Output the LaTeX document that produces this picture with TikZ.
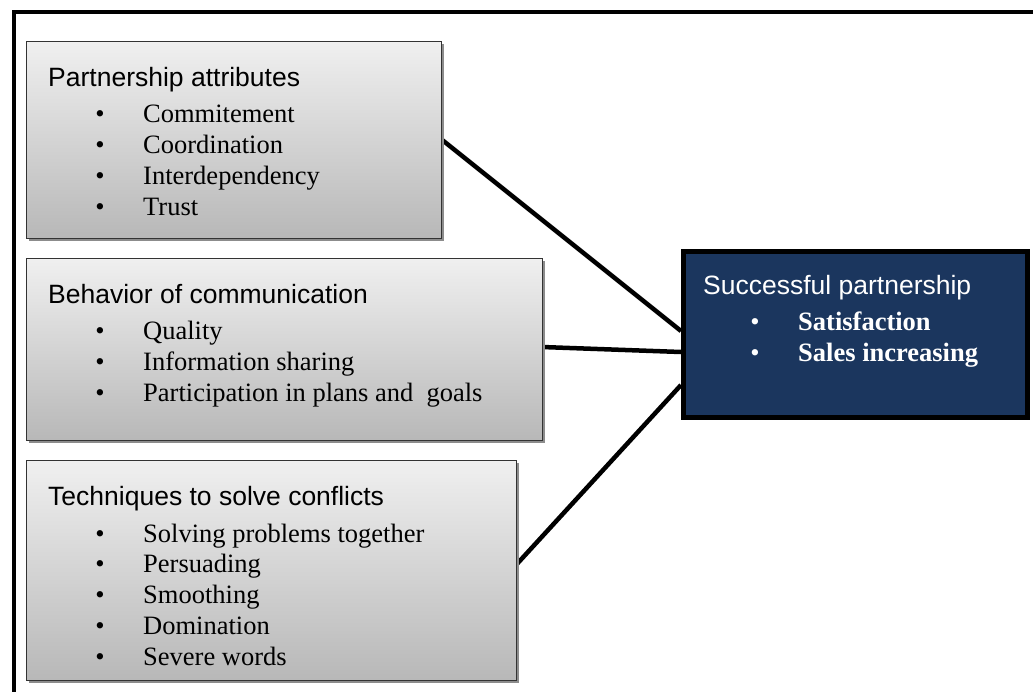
\documentclass[tikz,border=0pt]{standalone}
\usepackage{fontspec}
\setmainfont{Liberation Serif}
\newfontfamily\headfont{Liberation Sans}
\begin{document}
\begin{tikzpicture}[x=1pt,y=-1pt,
  greybox/.style={draw=black!80,line width=1.3pt,top color=black!6,bottom color=black!28,shading angle=0},
  boxshadow/.style={fill=black!45},
  navybox/.style={draw=black,line width=5pt,fill=navy},
  link/.style={line width=4.5pt,line cap=butt},
  head/.style={anchor=base west,inner sep=0pt,font=\headfont\fontsize{26.5}{30}\selectfont},
  item/.style={anchor=base west,inner sep=0pt,font=\fontsize{26.5}{30}\selectfont},
  bul/.style={anchor=base,inner sep=0pt,font=\fontsize{26.5}{30}\selectfont}]
\definecolor{navy}{HTML}{1B365E}
\useasboundingbox (0,0) rectangle (1033,691);
\clip (0,0) rectangle (1033,691);
% outer frame
\draw[line width=4.5pt] (14,12) rectangle (1060,720);

% connectors (drawn first, boxes sit on top)
\coordinate (l1a) at (441,139);
\coordinate (l1b) at (681,331);
\coordinate (l2a) at (542,347);
\coordinate (l2b) at (681,352);
\coordinate (l3a) at (516,565);
\coordinate (l3b) at (681,385);
\draw[link] (l1a) -- (l1b);
\draw[link] (l2a) -- (l2b);
\draw[link] (l3a) -- (l3b);

% box 1
\fill[boxshadow] (29,44) rectangle (444,241);
\node[greybox,draw,minimum width=415pt,minimum height=197pt,anchor=north west,inner sep=0pt] (pa) at (26,41) {};
\node[head] (pah) at (48,86) {Partnership attributes};
\foreach \t [count=\i] in {Commitement,Coordination,Interdependency,Trust}{
  \node[bul] (pab\i) at (100,122+31*\i-31) {•};
  \node[item] (pai\i) at (143,122+31*\i-31) {\t};
}

% box 2
\fill[boxshadow] (29,261) rectangle (545,443);
\node[greybox,minimum width=516pt,minimum height=182pt,anchor=north west,inner sep=0pt] (bc) at (26,258) {};
\node[head] (bch) at (48,303) {Behavior of communication};
\foreach \t [count=\i] in {Quality,Information sharing,Participation in plans and\ \ goals}{
  \node[bul] (bcb\i) at (100,339+31*\i-31) {•};
  \node[item] (bci\i) at (143,339+31*\i-31) {\t};
}

% box 3
\fill[boxshadow] (29,463) rectangle (519,683);
\node[greybox,minimum width=490pt,minimum height=220pt,anchor=north west,inner sep=0pt] (tc) at (26,460) {};
\node[head] (tch) at (48,505) {Techniques to solve conflicts};
\foreach \t [count=\i] in {Solving problems together,Persuading,Smoothing,Domination,Severe words}{
  \node[bul] (tcb\i) at (100,542+30.8*\i-30.8) {•};
  \node[item] (tci\i) at (143,542+30.8*\i-30.8) {\t};
}

% outcome box
\fill[black!45] (682,249) rectangle (1030,420);
\node[navybox,minimum width=344pt,minimum height=166pt,anchor=north west,inner sep=0pt] (sp) at (681,248.5) {};
\node[head,text=white] (sph) at (703,294) {Successful partnership};
\node[bul,text=white] (spb1) at (755,330) {•};
\node[item,text=white,font=\bfseries\fontsize{26.5}{30}\selectfont] (spi1) at (798,330) {Satisfaction};
\node[bul,text=white] (spb2) at (755,361) {•};
\node[item,text=white,font=\bfseries\fontsize{26.5}{30}\selectfont] (spi2) at (798,361) {Sales increasing};
\end{tikzpicture}
\end{document}
